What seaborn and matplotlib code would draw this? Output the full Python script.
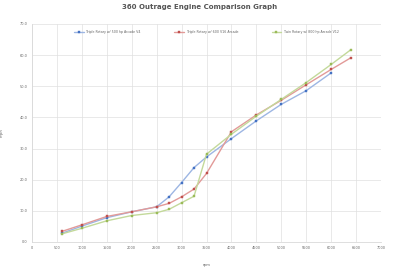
import matplotlib
matplotlib.use("Agg")
import matplotlib.pyplot as plt
import seaborn as sns
import pandas as pd

rpm_a = [600, 1000, 1500, 2000, 2500, 2750, 3000, 3250, 3500, 4000, 4500, 5000, 5500, 6000]
mph_a = [2.8, 5.1, 7.8, 9.7, 11.3, 14.5, 19.1, 23.9, 27.3, 33.2, 38.9, 44.2, 48.6, 54.3]
rpm_b = [600, 1000, 1500, 2000, 2500, 2750, 3000, 3250, 3500, 4000, 4500, 5000, 5500, 6000, 6400]
mph_b = [3.4, 5.5, 8.2, 9.7, 11.3, 12.4, 14.5, 17.0, 22.0, 35.4, 40.8, 45.5, 50.5, 55.4, 59.2]
rpm_c = [600, 1000, 1500, 2000, 2500, 2750, 3000, 3250, 3500, 4000, 4500, 5000, 5500, 6000, 6400]
mph_c = [2.6, 4.4, 6.8, 8.5, 9.4, 10.5, 12.6, 14.7, 28.2, 34.6, 40.4, 45.8, 51.2, 57.0, 61.8]
series_names = ["Triple Rotary w/ 500 hp Arcade V4",
                "Triple Rotary w/ 600 V16 Arcade",
                "Twin Rotary w/ 800 hp Arcade V12"]
title = "360 Outrage Engine Comparison Graph"
x_ticks = list(range(0, 7001, 500))
y_ticks = list(range(0, 71, 10))

df = pd.concat([
    pd.DataFrame({"rpm": rpm_a, "mph": mph_a, "series": series_names[0]}),
    pd.DataFrame({"rpm": rpm_b, "mph": mph_b, "series": series_names[1]}),
    pd.DataFrame({"rpm": rpm_c, "mph": mph_c, "series": series_names[2]}),
])

sns.set_theme(style="whitegrid")
plt.rcParams['font.family'] = ['DejaVu Sans']
fig = plt.figure(figsize=(4.0, 2.73), dpi=100)
ax = fig.add_axes([0.08, 0.1136, 0.8725, 0.7985])

colors = ["#4472C4", "#C0504D", "#9BBB59"]
line_colors = ["#9DB6E3", "#E29A98", "#C3D99A"]
for name, c, lc in zip(series_names, colors, line_colors):
    sub = df[df["series"] == name]
    sns.lineplot(data=sub, x="rpm", y="mph", ax=ax, color=lc, lw=1.0,
                 marker="s", markersize=2.1, markerfacecolor=c, markeredgecolor=c,
                 markeredgewidth=0.3, label=name, sort=False)

ax.set_xlim(0, 7000)
ax.set_ylim(0, 70)
ax.set_xticks(x_ticks)
ax.set_xticklabels([str(v) for v in x_ticks])
ax.set_yticks(y_ticks)
ax.set_yticklabels([f"{v:.1f}" for v in y_ticks])
ax.tick_params(axis="both", labelsize=2.5, colors="#666666", length=0, pad=3)
ax.grid(True, color="#E0E0E0", lw=0.5)
for s in ["top", "right"]:
    ax.spines[s].set_visible(False)
for s in ["left", "bottom"]:
    ax.spines[s].set_color("#D9D9D9")
    ax.spines[s].set_linewidth(0.6)
ax.set_xlabel("rpm", fontsize=2.8, color="#666666", labelpad=9)
ax.set_ylabel("mph", fontsize=2.8, color="#666666", labelpad=12)
fig.suptitle(title, fontsize=5, color="#555555", fontweight="bold", y=0.985)
leg = ax.legend(loc="upper center", bbox_to_anchor=(0.5, 0.985), ncol=3, frameon=False,
                fontsize=2.3, handlelength=3, columnspacing=10.5, labelcolor="#666666")
fig.savefig("out.png", dpi=100)
